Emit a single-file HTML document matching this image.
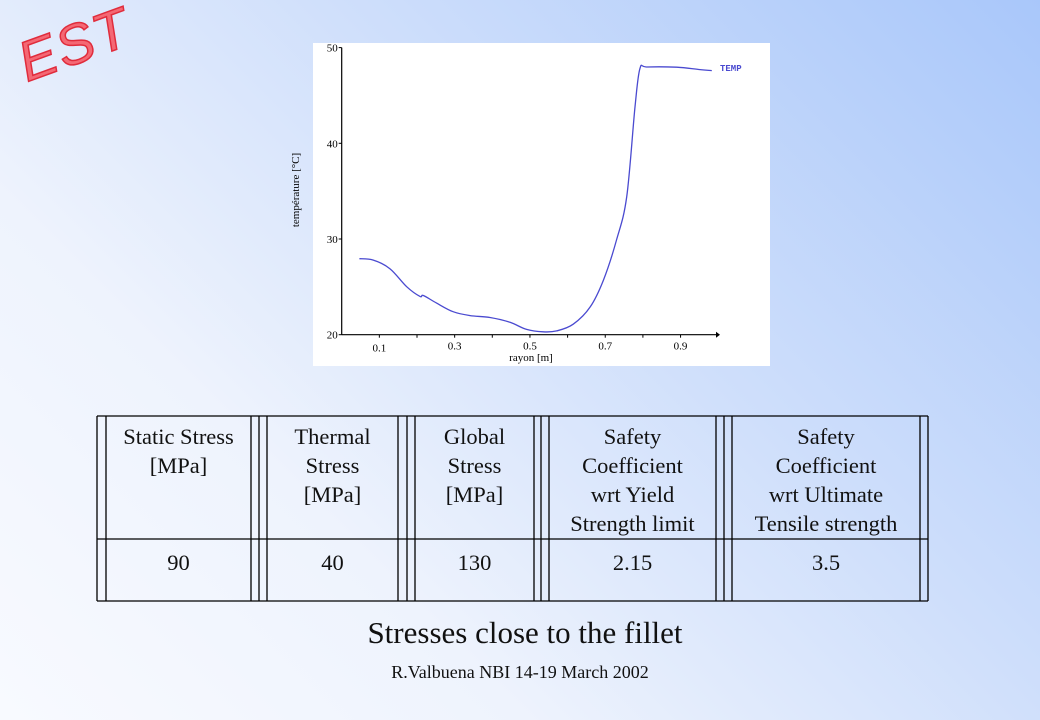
<!DOCTYPE html>
<html><head><meta charset="utf-8"><style>
html,body{margin:0;padding:0}
body{width:1040px;height:720px;overflow:hidden;position:relative;font-family:"Liberation Serif",serif;
background:linear-gradient(225deg,#a9c7fa 0%,#cfdffb 40%,#eef3fd 70%,#f8faff 100%);}
.t{position:absolute;text-align:center;color:#111;font-size:22.5px;line-height:29px}
</style></head><body>
<svg width="1040" height="720" style="position:absolute;left:0;top:0">
<g transform="translate(27,82) rotate(-20)">
<text x="0" y="0" font-family="Liberation Sans,sans-serif" font-size="56" font-style="italic" fill="#f46874" stroke="#e02c3c" stroke-width="1.5" letter-spacing="2">EST</text>
</g>
<rect x="313" y="43" width="457" height="323" fill="#fff"/>
<g id="chart"></g>
<g id="table" stroke="#000" stroke-width="1.3"></g>
</svg>
<div class="t" style="left:106px;top:422px;width:145px">Static Stress<br>[MPa]</div>
<div class="t" style="left:267px;top:422px;width:131px">Thermal<br>Stress<br>[MPa]</div>
<div class="t" style="left:415px;top:422px;width:119px">Global<br>Stress<br>[MPa]</div>
<div class="t" style="left:549px;top:422px;width:167px">Safety<br>Coefficient<br>wrt Yield<br>Strength limit</div>
<div class="t" style="left:732px;top:422px;width:188px">Safety<br>Coefficient<br>wrt Ultimate<br>Tensile strength</div>
<div class="t" style="left:106px;top:548px;width:145px">90</div>
<div class="t" style="left:267px;top:548px;width:131px">40</div>
<div class="t" style="left:415px;top:548px;width:119px">130</div>
<div class="t" style="left:549px;top:548px;width:167px">2.15</div>
<div class="t" style="left:732px;top:548px;width:188px">3.5</div>
<div class="t" style="left:0;width:1050px;top:614px;font-size:31px;line-height:38px">Stresses close to the fillet</div>
<div class="t" style="left:0;width:1040px;top:661px;font-size:18px;line-height:22px">R.Valbuena NBI 14-19 March 2002</div>
<script>
const xs=[0.047,0.084,0.128,0.173,0.208,0.217,0.252,0.296,0.341,0.394,0.447,0.491,0.535,0.571,0.615,0.660,0.695,0.730,0.757,0.779,0.792,0.810,0.890,0.952,0.983];
const temps=[27.94,27.8,26.9,25.0,24.0,24.1,23.3,22.4,22.0,21.8,21.3,20.55,20.3,20.4,21.1,22.9,25.7,29.9,34.4,43.8,47.8,47.97,47.95,47.7,47.6];
const yTicks=[20,30,40,50];
const xTickLabels=[0.1,0.3,0.5,0.7,0.9];
const NS='http://www.w3.org/2000/svg';
const X=v=>341.7+v*376.5, Y=v=>334.7-(v-20)*9.57;
const g=document.getElementById('chart');
function mk(t,a,p){const e=document.createElementNS(NS,t);for(const k in a)e.setAttribute(k,a[k]);(p||g).appendChild(e);return e;}
let e;
e=mk('line',{x1:X(0),y1:Y(20),x2:X(0),y2:Y(50),stroke:'#000','stroke-width':1.2});


e=mk('line',{x1:X(0),y1:Y(20),x2:716,y2:Y(20),stroke:'#000','stroke-width':1.2});


e=mk('path',{d:`M716 ${Y(20)-3} L720 ${Y(20)} L716 ${Y(20)+3}Z`,fill:'#000'});


yTicks.forEach(v=>{
 e=mk('line',{x1:X(0)-3,y1:Y(v),x2:X(0),y2:Y(v),stroke:'#000'});
 
 
 e=mk('text',{x:X(0)-4,y:Y(v)+4,'text-anchor':'end','font-size':11,'font-family':'Liberation Serif,serif'});
 e.textContent=v;
 
 
});
for(let i=1;i<=9;i++){
 e=mk('line',{x1:X(i/10),y1:Y(20),x2:X(i/10),y2:Y(20)+3,stroke:'#000'});
 
 
}
xTickLabels.forEach((v,i)=>{
 e=mk('text',{x:X(v),y:Y(20)+(i==0?17:15),'text-anchor':'middle','font-size':11,'font-family':'Liberation Serif,serif'});
 e.textContent=v;
 
 
});
e=mk('text',{x:531,y:361,'text-anchor':'middle','font-size':11,'font-family':'Liberation Serif,serif'});
e.textContent='rayon [m]';


e=mk('text',{x:0,y:0,'text-anchor':'middle','font-size':11,'font-family':'Liberation Serif,serif',transform:'translate(299,190) rotate(-90)'});
e.textContent='température [°C]';


const P=xs.map((x,i)=>[X(x),Y(temps[i])]);
let d='M'+P[0][0].toFixed(1)+' '+P[0][1].toFixed(1);
for(let i=0;i<P.length-1;i++){
 const p0=P[Math.max(0,i-1)],p1=P[i],p2=P[i+1],p3=P[Math.min(P.length-1,i+2)];
 const c1=[p1[0]+(p2[0]-p0[0])/6,p1[1]+(p2[1]-p0[1])/6];
 const c2=[p2[0]-(p3[0]-p1[0])/6,p2[1]-(p3[1]-p1[1])/6];
 d+=` C${c1[0].toFixed(1)} ${c1[1].toFixed(1)} ${c2[0].toFixed(1)} ${c2[1].toFixed(1)} ${p2[0].toFixed(1)} ${p2[1].toFixed(1)}`;
}
e=mk('path',{d:d,fill:'none',stroke:'#4a4ad0','stroke-width':1.3});


e=mk('text',{x:720,y:71,'font-size':9,'font-family':'Liberation Mono,monospace',fill:'#4a4ad0','font-weight':'bold'});
e.textContent='TEMP';


const tg=document.getElementById('table');
[97,106,251,259,267,398,407,415,534,541,549,716,724,732,920,928].forEach(x=>{
 e=mk('line',{x1:x,y1:416,x2:x,y2:601},tg);
 
 
});
[416,539,601].forEach(y=>{
 e=mk('line',{x1:97,y1:y,x2:928,y2:y},tg);
 
 
});
</script>
</body></html>
